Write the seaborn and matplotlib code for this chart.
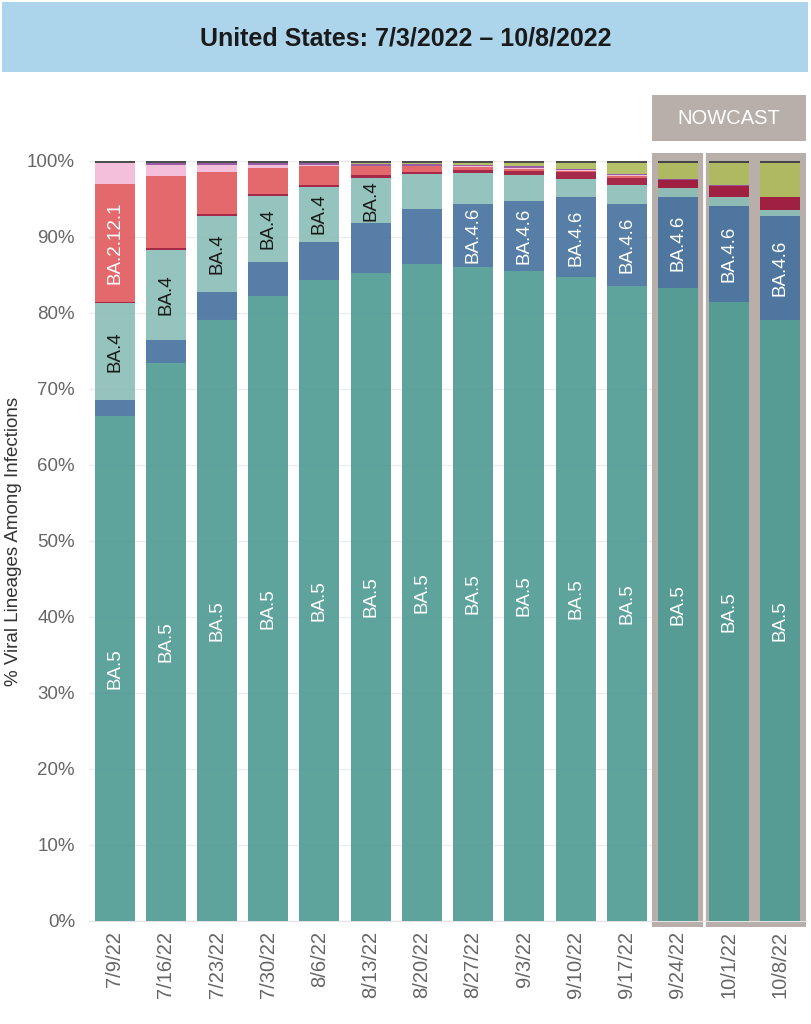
import numpy as np
import matplotlib
matplotlib.use("Agg")
import matplotlib.pyplot as plt
import seaborn as sns
from matplotlib.patches import Rectangle

# weeks (week ending)
weeks = ["7/9/22", "7/16/22", "7/23/22", "7/30/22", "8/6/22", "8/13/22", "8/20/22",
         "8/27/22", "9/3/22", "9/10/22", "9/17/22", "9/24/22", "10/1/22", "10/8/22"]

# share of each lineage (%), stacked bottom -> top
ba5 = [66.5, 73.4, 79.1, 82.2, 84.4, 85.3, 86.5, 86.1, 85.5, 84.7, 83.6, 83.3, 81.4, 79.1]
ba46 = [2.0, 3.1, 3.7, 4.5, 5.0, 6.5, 7.2, 8.3, 9.2, 10.5, 10.8, 11.9, 12.7, 13.6]
ba4 = [12.8, 11.8, 9.9, 8.7, 7.2, 6.0, 4.6, 4.0, 3.5, 2.4, 2.4, 1.2, 1.1, 0.8]
ba275 = [0.2, 0.3, 0.3, 0.3, 0.2, 0.3, 0.3, 0.4, 0.5, 1.0, 1.0, 1.1, 1.5, 1.7]
ba2121 = [15.5, 9.4, 5.6, 3.4, 2.6, 1.2, 0.7, 0.4, 0.3, 0.1, 0.2, 0.0, 0.0, 0.0]
ba2 = [2.7, 1.5, 0.9, 0.4, 0.1, 0.1, 0.1, 0.1, 0.1, 0.1, 0.2, 0.0, 0.0, 0.0]
ba5x = [0.0, 0.2, 0.2, 0.2, 0.2, 0.15, 0.15, 0.2, 0.2, 0.1, 0.1, 0.1, 0.1, 0.1]
bf7 = [0.0, 0.0, 0.0, 0.0, 0.0, 0.15, 0.15, 0.2, 0.4, 0.8, 1.4, 2.1, 2.9, 4.4]
other = [0.3] * 14

lineages = ["BA.5", "BA.4.6", "BA.4", "BA.2.75", "BA.2.12.1", "BA.2", "BA.5.2.6", "BF.7", "Other"]
shares = dict(zip(lineages, [ba5, ba46, ba4, ba275, ba2121, ba2, ba5x, bf7, other]))

colors = {
    "BA.5": "#4d9993",
    "BA.4.6": "#44709e",
    "BA.4": "#8abdb6",
    "BA.2.75": "#9e1136",
    "BA.2.12.1": "#e0595d",
    "BA.2": "#f2b8d8",
    "BA.5.2.6": "#8f4a9b",
    "BF.7": "#adbb59",
    "Other": "#3a3a3a",
}
# which segments get a name written in them, and in what colour
label_colors = {"BA.5": "white", "BA.4.6": "white", "BA.4": "#1a1a1a", "BA.2.12.1": "white"}

title = "United States: 7/3/2022 \u2013 10/8/2022"
n_nowcast = 3

sns.set_style("white")
plt.rcParams["font.family"] = ["Liberation Sans", "DejaVu Sans"]

fig, ax = plt.subplots(figsize=(8.12, 10.24), dpi=100)
fig.subplots_adjust(left=0.1096, right=0.9926, bottom=0.1006, top=0.8428)

# title banner
fig.patches.append(Rectangle((2 / 812, 1 - 72 / 1024), 806 / 812, 70 / 1024,
                             transform=fig.transFigure, facecolor="#acd5ec",
                             edgecolor="none", zorder=0))
fig.text(0.5, 1 - 38 / 1024, title, ha="center", va="center",
         fontsize=18, fontweight="bold", color="#1a1a1a")

# stacked bars
bottom = np.zeros(len(weeks))
for name in lineages:
    vals = np.array(shares[name], dtype=float)
    sns.barplot(x=weeks, y=vals, bottom=bottom, color=colors[name], alpha=0.9,
                width=0.78, saturation=1, linewidth=0, edgecolor="none",
                ax=ax, zorder=3)
    if name in label_colors:
        for i, v in enumerate(vals):
            # only when the name fits inside the segment
            if v >= len(name) + 1.5:
                ax.text(i, bottom[i] + v / 2, name, rotation=90, ha="center",
                        va="center", color=label_colors[name], fontsize=13.5, zorder=5)
    bottom += vals

# nowcast shading and tag
start = len(weeks) - n_nowcast - 0.5
ax.add_patch(Rectangle((start, -0.8), n_nowcast, 101.85, facecolor="#b8afab",
                       edgecolor="none", zorder=1, clip_on=False))
ax.plot([start + 1, start + 1], [-0.8, 101.05], color="white", lw=2,
        zorder=2, clip_on=False)
ax.add_patch(Rectangle((start, 102.6), n_nowcast, 6.1, facecolor="#b8afab",
                       edgecolor="none", zorder=1, clip_on=False))
ax.text(start + n_nowcast / 2, 105.65, "NOWCAST", ha="center", va="center",
        color="white", fontsize=14.5)

# axes styling
ax.set_xlim(-0.5, len(weeks) - 0.5)
ax.set_ylim(0, 100)
ax.set_yticks(range(0, 101, 10))
ax.set_yticklabels([f"{v}%" for v in range(0, 101, 10)])
ax.yaxis.grid(True, color="#ececec", lw=1)
ax.set_axisbelow(True)
ax.tick_params(axis="y", length=0, pad=10, labelsize=13.5, labelcolor="#666666")
ax.tick_params(axis="x", which="major", length=0, pad=7, labelsize=14.5,
               labelcolor="#666666", labelrotation=90)
ax.set_xticks(np.arange(-0.5, len(weeks), 1), minor=True)
ax.tick_params(axis="x", which="minor", length=6, color="#e3e3e3")
ax.set_xlabel("")
ax.set_ylabel("% Viral Lineages Among Infections", fontsize=13.5, color="#333333")
ax.yaxis.set_label_coords(-0.093, 0.5)
for side in ["top", "right", "left"]:
    ax.spines[side].set_visible(False)
ax.spines["bottom"].set_color("#e3e3e3")

fig.savefig("out.png", dpi=100)
